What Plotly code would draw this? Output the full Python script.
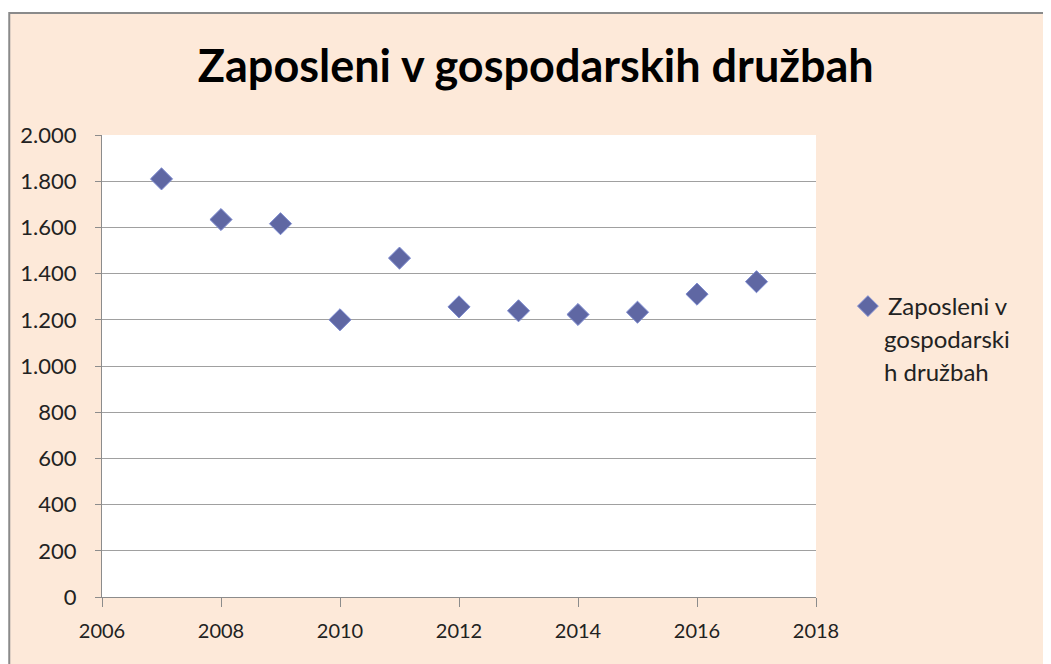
import plotly.graph_objects as go

years = [2007, 2008, 2009, 2010, 2011, 2012, 2013, 2014, 2015, 2016, 2017]
employees = [1810, 1634, 1616, 1200, 1467, 1256, 1239, 1223, 1233, 1311, 1365]
legend_lines = ["Zaposleni v", "gospodarski", "h družbah"]
title_text = "Zaposleni v gospodarskih družbah"

W, H = 1051, 664
OFF = 8  # page offset of the figure inside the browser window
L, R, T, B = 100, 816, 135, 597  # plot area in window pixels

def px(x):
    return (x - L) / (R - L)

def py(y):
    return (B - y) / (B - T)

FONT = "Lato"
marker_color = "#5F67A3"

fig = go.Figure()
fig.add_trace(go.Scatter(
    x=years, y=employees, mode="markers", name=legend_lines[0],
    marker=dict(symbol="diamond", size=17, color=marker_color,
                line=dict(width=1, color="#7C8AD0")),
    showlegend=True,
))

fig.update_layout(
    width=W, height=H,
    margin=dict(l=L - OFF, r=W - R + OFF, t=T - OFF, b=H - B + OFF),
    paper_bgcolor="white",
    plot_bgcolor="white",
    separators=",.",
    font=dict(family=FONT, size=22, color="#222"),
    title=dict(text=f"<b>{title_text}</b>", x=px(535), xref="paper", xanchor="center",
               y=1 - (66 - OFF) / H, yanchor="middle",
               font=dict(family=FONT, size=45, color="black")),
    xaxis=dict(range=[2006, 2018], dtick=2, tick0=2006, showgrid=False,
               showline=True, linecolor="#8c8c8c", linewidth=1,
               ticks="outside", ticklen=9, tickcolor="#8c8c8c",
               tickfont=dict(family=FONT, size=20, color="#222"),
               zeroline=False, fixedrange=True, ticklabelstandoff=7),
    yaxis=dict(range=[0, 2000], dtick=200, showgrid=True, gridcolor="#a0a0a0", gridwidth=1.2,
               showline=True, linecolor="#8c8c8c", linewidth=1,
               ticks="outside", ticklen=6, tickcolor="#8c8c8c",
               separatethousands=True, tickformat=",d",
               tickfont=dict(family=FONT, size=22, color="#222"),
               zeroline=False, fixedrange=True, ticklabelstandoff=14),
    legend=dict(x=px(848), y=py(284), xanchor="left", yanchor="top",
                bgcolor="rgba(0,0,0,0)", font=dict(family=FONT, size=24, color="#222"),
                itemwidth=30, tracegroupgap=0),
    shapes=[
        dict(type="rect", xref="paper", yref="paper", x0=px(7), x1=px(1100), y0=py(720), y1=py(13),
             fillcolor="#FDE9D9", line=dict(color="#8a8a8a", width=2), layer="below"),
        dict(type="rect", xref="paper", yref="paper", x0=0, x1=1, y0=0, y1=1,
             fillcolor="white", line=dict(width=0), layer="below"),
    ],
    annotations=[
        dict(text=legend_lines[1], xref="paper", yref="paper", x=px(882), y=py(338),
             xanchor="left", yanchor="middle", showarrow=False,
             font=dict(family=FONT, size=24, color="#222")),
        dict(text=legend_lines[2], xref="paper", yref="paper", x=px(882), y=py(371),
             xanchor="left", yanchor="middle", showarrow=False,
             font=dict(family=FONT, size=24, color="#222")),
    ],
)

fig.write_html("out.html")
